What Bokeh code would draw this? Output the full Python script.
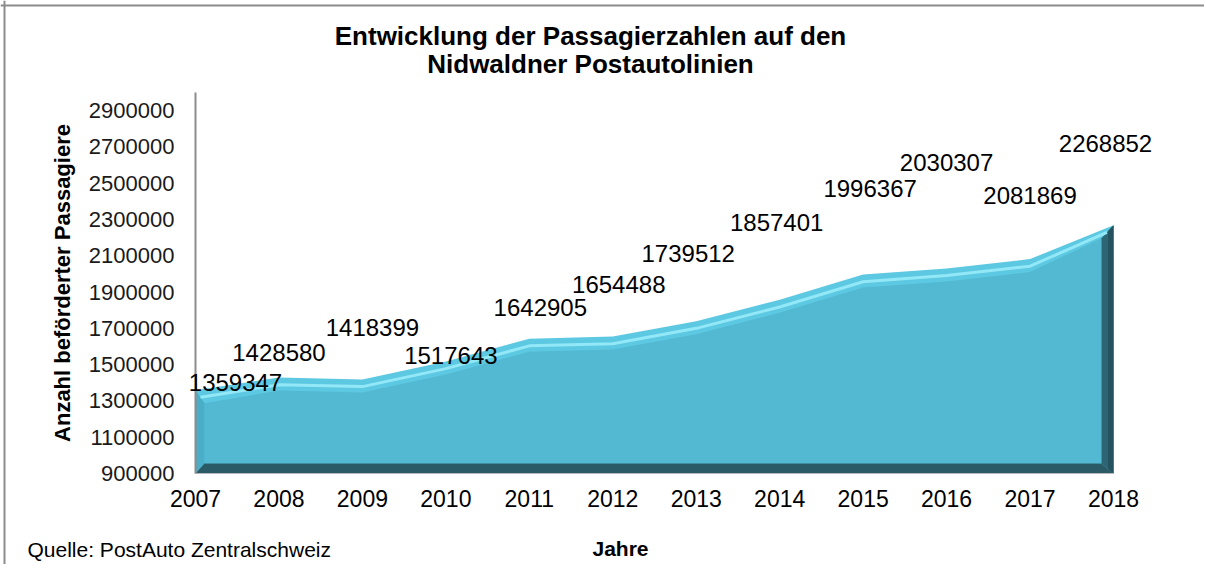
from bokeh.plotting import figure
from bokeh.models import (Range1d, FixedTicker, NumeralTickFormatter, LabelSet, Label,
                          ColumnDataSource, Span)
from bokeh.core.properties import value
from bokeh.embed import file_html
from bokeh.resources import INLINE

# ---- data ----
years = [2007, 2008, 2009, 2010, 2011, 2012, 2013, 2014, 2015, 2016, 2017, 2018]
passengers = [1359347, 1428580, 1418399, 1517643, 1642905, 1654488,
              1739512, 1857401, 1996367, 2030307, 2081869, 2268852]
y_ticks = [900000, 1100000, 1300000, 1500000, 1700000, 1900000,
           2100000, 2300000, 2500000, 2700000, 2900000]
title_lines = ["Entwicklung der Passagierzahlen auf den", "Nidwaldner Postautolinien"]
y_label = "Anzahl beförderter Passagiere"
x_label = "Jahre"
source_note = "Quelle: PostAuto Zentralschweiz"

# data-label offsets in pixels (placement only)
label_dx = [40, 0, 10, 5, 11, 6, -8, -3, 7, 0, 0, -8]
label_dy = [8, 25, 52, 6, 31, 52, 68, 77, 86, 106, 64, 82]

FONT = "Liberation Sans"
X0, X1 = years[0], years[-1]
Y0, Y1 = 900000, 3000000

# page geometry (pixels): the canvas fills the page, plot box of the reference
W, H = 1204, 564
FR_L, FR_R, FR_T, FR_B = 195, 1113, 92, 473

px_x = (X1 - X0) / (FR_R - FR_L)
px_y = (Y1 - Y0) / (FR_B - FR_T)

def dxp(px):
    return X0 + (px - FR_L) * px_x

def dyp(py):
    return Y1 - (py - FR_T) * px_y

p = figure(width=W, height=H,
           x_range=Range1d(dxp(0), dxp(W)), y_range=Range1d(dyp(H), dyp(0)),
           output_backend="svg", toolbar_location=None,
           min_border=0, min_border_left=0, min_border_right=0,
           min_border_top=0, min_border_bottom=0)
p.grid.visible = False
p.outline_line_color = None
p.background_fill_color = "white"
p.border_fill_color = "white"

# chart border (top and left edge of the chart box)
p.add_layout(Span(location=dyp(5), dimension="width", line_color="#8c8c8c", line_width=2))
p.add_layout(Span(location=dxp(4), dimension="height", line_color="#8c8c8c", line_width=2))

# bevel sizes (style)
tb = 13 * px_y
bb = 10 * px_y
lb = 9 * px_x
rb = 12 * px_x

# base area (top bevel colour)
p.patch(years + [X1, X0], passengers + [Y0, Y0], fill_color="#5dc8e1", line_color=None)
# front face
fx = [X0 + lb] + years[1:-1] + [X1 - rb]
fy = [v - tb for v in passengers]
p.patch(fx + [X1 - rb, X0 + lb], fy + [Y0 + bb, Y0 + bb], fill_color="#53b8d2", line_color=None)
# left bevel
p.patch([X0, X0 + lb, X0 + lb, X0], [passengers[0], passengers[0] - tb, Y0 + bb, Y0],
        fill_color="#4aaec8", line_color=None)
# right side
p.patch([X1, X1, X1 - rb, X1 - rb], [passengers[-1], Y0, Y0 + bb, passengers[-1] - tb],
        fill_color="#2e6575", line_color=None)
p.patch([X1, X1, X1 - rb * 0.45, X1 - rb * 0.45],
        [passengers[-1], Y0, Y0 + bb * 0.45, passengers[-1] - tb * 0.45],
        fill_color="#25525f", line_color=None)
# bottom
p.patch([X0, X1, X1 - rb, X0 + lb], [Y0, Y0, Y0 + bb, Y0 + bb],
        fill_color="#2b5a67", line_color=None)
# highlight line on the top bevel
hx = [X0 + lb * 0.55] + years[1:-1] + [X1 - rb * 0.55]
hy = [v - tb * 0.55 for v in passengers]
p.line(hx, hy, line_color="#92e8f7", line_width=3)

# axes at fixed locations inside the canvas
yax = p.yaxis[0]
yax.fixed_location = X0
yax.bounds = (Y0, Y1)
yax.ticker = FixedTicker(ticks=y_ticks)
yax.formatter = NumeralTickFormatter(format="0")
yax.major_tick_line_color = None
yax.minor_tick_line_color = None
yax.axis_line_color = "#8c8c8c"
yax.axis_line_width = 2
yax.major_label_standoff = 15
yax.major_label_text_font = FONT
yax.major_label_text_font_size = "22px"
yax.major_label_text_color = "#1a1a1a"
yax.axis_label = y_label
yax.axis_label_text_font = FONT
yax.axis_label_text_font_size = "22px"
yax.axis_label_text_font_style = "bold"
yax.axis_label_text_color = "black"
yax.axis_label_standoff = 11

xax = p.xaxis[0]
xax.fixed_location = Y0
xax.bounds = (X0, X1)
xax.ticker = FixedTicker(ticks=years)
xax.formatter = NumeralTickFormatter(format="0")
xax.major_tick_line_color = None
xax.minor_tick_line_color = None
xax.axis_line_color = "#b8b8b8"
xax.major_label_standoff = 10
xax.major_label_text_font = FONT
xax.major_label_text_font_size = "23px"
xax.major_label_text_color = "black"

# data labels
src = ColumnDataSource(dict(x=years, y=passengers,
                            t=[str(v) for v in passengers],
                            dx=label_dx, dy=label_dy))
p.add_layout(LabelSet(x="x", y="y", text="t", x_offset="dx", y_offset="dy", source=src,
                      text_font=value(FONT), text_font_size=value("24px"), text_color="black",
                      text_align="center", text_baseline="middle"))

# title
for i, line in enumerate(title_lines):
    p.add_layout(Label(x=dxp(590), y=dyp(35 + 28 * i), text=line, text_font=FONT,
                       text_font_size="26px", text_font_style="bold", text_color="black",
                       text_align="center", text_baseline="middle"))

p.add_layout(Label(x=dxp(620), y=dyp(548), text=x_label, text_font=FONT,
                   text_font_size="21px", text_font_style="bold", text_color="black",
                   text_align="center", text_baseline="middle"))
p.add_layout(Label(x=dxp(27), y=dyp(549), text=source_note, text_font=FONT,
                   text_font_size="21px", text_color="black",
                   text_align="left", text_baseline="middle"))

open("out.html", "w").write(file_html(p, INLINE))
